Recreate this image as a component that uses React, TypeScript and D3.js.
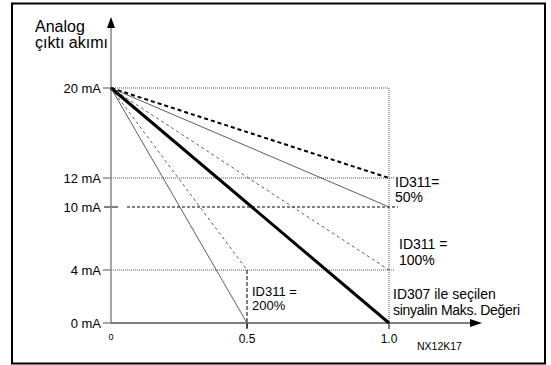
import React from "react";
import * as d3 from "d3";

// Y-axis levels (mA) and their labels
const yLevels = [0, 4, 10, 12, 20];
const yLabels = ["0 mA", "4 mA", "10 mA", "12 mA", "20 mA"];
// X-axis ticks
const xTicks = [0, 0.5, 1.0];
const xTickLabels = ["0", "0.5", "1.0"];
// Output lines: all start at (0, 20 mA)
const lineStartX = 0;
const lineStartY = 20;
const lineEndX = [1.0, 1.0, 1.0, 1.0, 0.5, 0.5];
const lineEndY = [12, 10, 4, 0, 4, 0];
const lineKinds = ["boldDash", "thin", "thinDash", "thick", "thinDash", "thin"];

export default function App() {
  const W = 551, H = 365;
  // schematic (non-uniform) scales as in the original drawing
  const x = d3.scaleLinear().domain([0, 0.5, 1]).range([111, 247, 389]);
  const y = d3.scaleLinear().domain([0, 4, 10, 12, 20]).range([323, 270, 207, 178, 88]);
  const line = d3.line<[number, number]>().x(d => x(d[0])).y(d => y(d[1]));

  const styles: Record<string, any> = {
    boldDash: { stroke: "#000", strokeWidth: 2, strokeDasharray: "4,3" },
    thin: { stroke: "#333", strokeWidth: 0.8 },
    thinDash: { stroke: "#333", strokeWidth: 0.8, strokeDasharray: "3,3" },
    thick: { stroke: "#000", strokeWidth: 3 },
  };
  const font = "Arial, 'Liberation Sans', sans-serif";
  const dot = { stroke: "#555", strokeWidth: 1, strokeDasharray: "1,1", fill: "none" };

  return (
    <svg width={W} height={H} style={{ position: "absolute", left: 0, top: 0, background: "#fff" }} fontFamily={font}>
      <rect x={12} y={3.5} width={533} height={360} fill="#fff" stroke="#000" strokeWidth={2} />
      {/* guide lines */}
      <path d={`M${x(0)},${y(20)}H${x(1)}V${y(0)}`} {...dot} />
      <line x1={x(0)} x2={395} y1={y(12)} y2={y(12)} {...dot} />
      <line x1={x(0)} x2={395} y1={y(4)} y2={y(4)} {...dot} />
      <line x1={104} x2={118} y1={y(10)} y2={y(10)} stroke="#000" strokeWidth={1} />
      <line x1={127} x2={398} y1={y(10)} y2={y(10)} stroke="#000" strokeWidth={1} strokeDasharray="3,2" />
      <line x1={x(0.5)} x2={x(0.5)} y1={y(4)} y2={y(0) + 6} stroke="#000" strokeWidth={1} strokeDasharray="4,2" />
      {/* y ticks */}
      {yLevels.map((v, i) => (
        <g key={v}>
          {v !== 10 && <line x1={103} x2={x(0)} y1={y(v)} y2={y(v)} stroke="#555" strokeWidth={1} />}
          <text x={101} y={y(v) + 4.5} textAnchor="end" fontSize={13} fill="#000">{yLabels[i]}</text>
        </g>
      ))}
      {/* x ticks */}
      {xTicks.map((v, i) => (
        <g key={v}>
          {v !== 0 && <line x1={x(v)} x2={x(v)} y1={y(0)} y2={y(0) + 6} stroke="#000" strokeWidth={1} />}
          <text x={x(v)} y={v === 0 ? 340 : 343} textAnchor="middle" fontSize={v === 0 ? 9 : 12} fill="#000">{xTickLabels[i]}</text>
        </g>
      ))}
      {/* axes */}
      <line x1={x(0)} x2={x(0)} y1={y(0)} y2={26} stroke="#888" strokeWidth={1.5} />
      <path d={`M${x(0)},17L${x(0) - 4},28L${x(0) + 4},28Z`} fill="#000" />
      <line x1={x(0)} x2={472} y1={y(0)} y2={y(0)} stroke="#555" strokeWidth={1.5} />
      <path d={`M482,${y(0)}L470,${y(0) - 4}L470,${y(0) + 4}Z`} fill="#000" />
      {/* output lines */}
      {lineEndX.map((ex, i) => (
        <path key={i} d={line([[lineStartX, lineStartY], [ex, lineEndY[i]]]) || ""} fill="none" {...styles[lineKinds[i]]} />
      ))}
      {/* titles & annotations */}
      <text x={35} y={32} fontSize={16} fill="#000">Analog</text>
      <text x={35} y={48} fontSize={16} fill="#000">çıktı akımı</text>
      <text x={395} y={187} fontSize={14} fill="#000">ID311=</text>
      <text x={395} y={202} fontSize={14} fill="#000">50%</text>
      <text x={399} y={249} fontSize={14} fill="#000">ID311 =</text>
      <text x={399} y={265} fontSize={14} fill="#000">100%</text>
      <text x={252} y={296} fontSize={13} fill="#000">ID311 =</text>
      <text x={252} y={310} fontSize={13} fill="#000">200%</text>
      <text x={393} y={299} fontSize={14} fill="#000">ID307 ile seçilen</text>
      <text x={393} y={315} fontSize={14} fill="#000" letterSpacing={-0.3}>sinyalin Maks. Değeri</text>
      <text x={417} y={350} fontSize={10.5} fill="#000">NX12K17</text>
    </svg>
  );
}
